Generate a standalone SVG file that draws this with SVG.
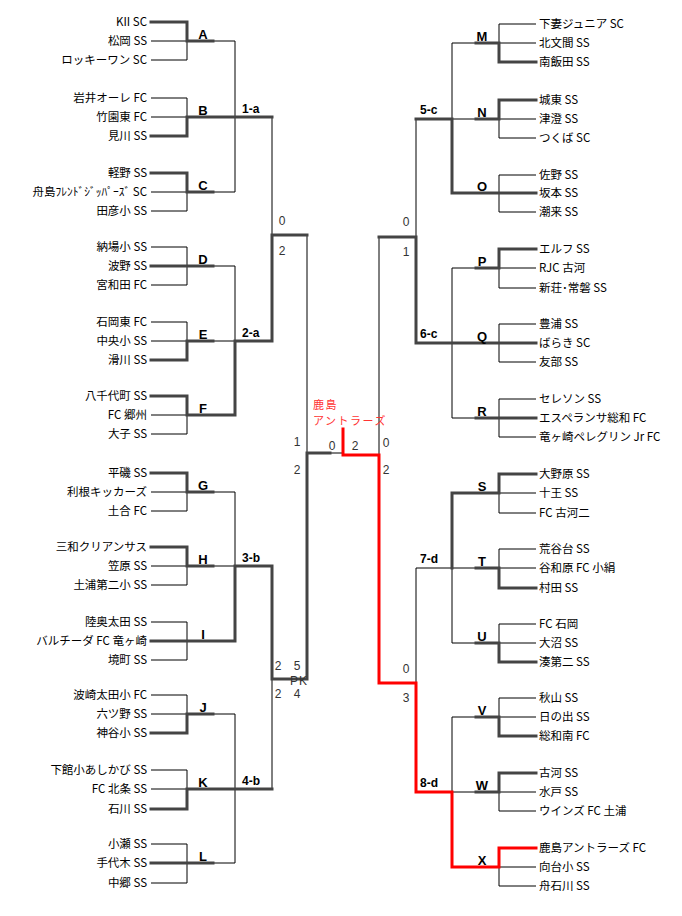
<svg xmlns="http://www.w3.org/2000/svg" width="682" height="916" viewBox="0 0 682 916">
<style>
.t{fill:none;stroke:#000;stroke-width:1}
.k{fill:none;stroke:#444;stroke-width:3;stroke-linejoin:miter;stroke-linecap:square}
.r{fill:none;stroke:#f00;stroke-width:3;stroke-linejoin:miter;stroke-linecap:square}
.nl{font-family:"Noto Sans CJK JP","Noto Sans",sans-serif;font-size:11.5px;fill:#000;text-anchor:end}
.nr{font-family:"Noto Sans CJK JP","Noto Sans",sans-serif;font-size:11.5px;fill:#000;text-anchor:start}
.g{font-family:"Liberation Sans",Arial,sans-serif;font-size:13px;font-weight:bold;fill:#000;text-anchor:middle}
.rd{font-family:"Liberation Sans",Arial,sans-serif;font-size:12px;font-weight:bold;fill:#000}
.s{font-family:"Liberation Sans",Arial,sans-serif;font-size:12px;fill:#333;text-anchor:middle}
.red{font-family:"Noto Sans CJK JP",sans-serif;font-size:11px;fill:#f33;letter-spacing:1.5px}
</style>
<rect width="682" height="916" fill="#fff"/>
<g id="connectors">
<path class="t" d="M151,41H187M151,60H187M187,41V60M213,41H235
M151,98H187M151,117H187M187,98V117
M151,192H187M151,211H187M187,192V211M213,192H235
M235,41V192M272,117V235
M151,247H187M151,285H187M187,247V285M213,266H235
M151,322H187M151,341H187M187,322V341M213,341H235
M151,415H187M151,434H187M187,415V434
M235,266V341M307,235V453M330,453H343
M151,492H187M151,511H187M187,492V511M213,492H235
M151,566H187M151,585H187M187,566V585M213,566H235
M151,622H187M151,660H187M187,622V660
M235,492V566
M151,695H187M151,714H187M187,695V714M213,714H235
M151,770H187M151,789H187M187,770V789
M151,844H187M151,883H187M187,844V883M213,863H235
M235,714V863M272,679V789
M536,24H499M536,43H499M499,24V43M476,43H452
M536,119H499M536,138H499M499,119V138M476,119H452
M536,175H499M536,212H499M499,175V212
M452,43V119M416,119V237
M536,268H499M536,288H499M499,268V288M476,268H452
M536,324H499M536,362H499M499,324V362
M536,399H499M536,437H499M499,399V437M476,418H452
M452,268V418M379,237V455
M536,493H499M536,513H499M499,493V513
M536,549H499M536,568H499M499,549V568M476,568H416
M536,624H499M536,643H499M499,624V643M476,643H452
M452,568V643M416,568V683
M536,698H499M536,717H499M499,698V717M476,717H452
M536,792H499M536,811H499M499,792V811M476,792H452
M536,867H499M536,886H499M499,867V886
M452,717V792"/>
<path class="k" d="M151,22H187V41H213"/>
<path class="k" d="M151,136H187V117H272"/>
<path class="k" d="M151,173H187V192H213"/>
<path class="k" d="M151,266H213"/>
<path class="k" d="M151,360H187V341H213"/>
<path class="k" d="M151,396H187V415H235V341H272V235H307"/>
<path class="k" d="M151,473H187V492H213"/>
<path class="k" d="M151,547H187V566H213"/>
<path class="k" d="M151,641H235V566H272V679H307V453H330"/>
<path class="k" d="M151,733H187V714H213"/>
<path class="k" d="M151,809H187V789H272"/>
<path class="k" d="M151,863H213"/>
<path class="k" d="M536,62H499V43H476"/>
<path class="k" d="M536,100H499V119H476"/>
<path class="k" d="M536,193H452V119H416"/>
<path class="k" d="M536,249H499V268H476"/>
<path class="k" d="M536,343H416V237H379"/>
<path class="k" d="M536,418H476"/>
<path class="k" d="M536,474H499V493H452V568"/>
<path class="k" d="M536,588H499V568H476"/>
<path class="k" d="M536,662H499V643H476"/>
<path class="k" d="M536,736H499V717H476"/>
<path class="k" d="M536,773H499V792H476"/>
<path class="r" d="M536,848H499V867H452V792H416V683H379V455H343V429"/>
</g>
<g id="scores">
<text class="s" x="282" y="225">0</text>
<text class="s" x="282" y="255">2</text>
<text class="s" x="297" y="446">1</text>
<text class="s" x="297" y="474">2</text>
<text class="s" x="278" y="670">2</text>
<text class="s" x="297" y="670">5</text>
<text class="s" x="299" y="685" letter-spacing="1">PK</text>
<text class="s" x="278" y="698">2</text>
<text class="s" x="297" y="698">4</text>
<text class="s" x="332" y="450">0</text>
<text class="s" x="355" y="450">2</text>
<text class="s" x="386" y="447">0</text>
<text class="s" x="386" y="474">2</text>
<text class="s" x="406" y="226">0</text>
<text class="s" x="406" y="256">1</text>
<text class="s" x="406" y="673">0</text>
<text class="s" x="406" y="702">3</text>
</g>
<g id="champion">
<text class="red" x="313" y="409">鹿島</text>
<text class="red" x="313" y="425">アントラーズ</text>
</g>
<g id="rounds">
<text class="rd" x="242" y="113">1-a</text>
<text class="rd" x="242" y="337">2-a</text>
<text class="rd" x="242" y="562">3-b</text>
<text class="rd" x="242" y="785">4-b</text>
<text class="rd" x="420" y="114">5-c</text>
<text class="rd" x="420" y="338">6-c</text>
<text class="rd" x="420" y="563">7-d</text>
<text class="rd" x="420" y="787">8-d</text>
</g>
<g id="group-A"><text class="g" x="203" y="39">A</text>
<text class="nl" x="147" y="26">KII SC</text><text class="nl" x="147" y="45">松岡 SS</text><text class="nl" x="147" y="64">ロッキーワン SC</text></g>
<g id="group-B"><text class="g" x="203" y="115">B</text>
<text class="nl" x="147" y="102">岩井オーレ FC</text><text class="nl" x="147" y="121">竹園東 FC</text><text class="nl" x="147" y="140">見川 SS</text></g>
<g id="group-C"><text class="g" x="203" y="190">C</text>
<text class="nl" x="147" y="177">軽野 SS</text><text class="nl" x="147" y="196">舟島ﾌﾚﾝﾄﾞｼﾞｯﾊﾟｰｽﾞ SC</text><text class="nl" x="147" y="215">田彦小 SS</text></g>
<g id="group-D"><text class="g" x="203" y="264">D</text>
<text class="nl" x="147" y="251">納場小 SS</text><text class="nl" x="147" y="270">波野 SS</text><text class="nl" x="147" y="289">宮和田 FC</text></g>
<g id="group-E"><text class="g" x="203" y="339">E</text>
<text class="nl" x="147" y="326">石岡東 FC</text><text class="nl" x="147" y="345">中央小 SS</text><text class="nl" x="147" y="364">滑川 SS</text></g>
<g id="group-F"><text class="g" x="203" y="413">F</text>
<text class="nl" x="147" y="400">八千代町 SS</text><text class="nl" x="147" y="419">FC 郷州</text><text class="nl" x="147" y="438">大子 SS</text></g>
<g id="group-G"><text class="g" x="203" y="490">G</text>
<text class="nl" x="147" y="477">平磯 SS</text><text class="nl" x="147" y="496">利根キッカーズ</text><text class="nl" x="147" y="515">土合 FC</text></g>
<g id="group-H"><text class="g" x="203" y="564">H</text>
<text class="nl" x="147" y="551">三和クリアンサス</text><text class="nl" x="147" y="570">笠原 SS</text><text class="nl" x="147" y="589">土浦第二小 SS</text></g>
<g id="group-I"><text class="g" x="203" y="639">I</text>
<text class="nl" x="147" y="626">陸奥太田 SS</text><text class="nl" x="147" y="645">バルチーダ FC 竜ヶ崎</text><text class="nl" x="147" y="664">境町 SS</text></g>
<g id="group-J"><text class="g" x="203" y="712">J</text>
<text class="nl" x="147" y="699">波崎太田小 FC</text><text class="nl" x="147" y="718">六ツ野 SS</text><text class="nl" x="147" y="737">神谷小 SS</text></g>
<g id="group-K"><text class="g" x="203" y="787">K</text>
<text class="nl" x="147" y="774">下館小あしかび SS</text><text class="nl" x="147" y="793">FC 北条 SS</text><text class="nl" x="147" y="813">石川 SS</text></g>
<g id="group-L"><text class="g" x="203" y="861">L</text>
<text class="nl" x="147" y="848">小瀬 SS</text><text class="nl" x="147" y="867">手代木 SS</text><text class="nl" x="147" y="887">中郷 SS</text></g>
<g id="group-M"><text class="g" x="482" y="41">M</text>
<text class="nr" x="539" y="28">下妻ジュニア SC</text><text class="nr" x="539" y="47">北文間 SS</text><text class="nr" x="539" y="66">南飯田 SS</text></g>
<g id="group-N"><text class="g" x="482" y="117">N</text>
<text class="nr" x="539" y="104">城東 SS</text><text class="nr" x="539" y="123">津澄 SS</text><text class="nr" x="539" y="142">つくば SC</text></g>
<g id="group-O"><text class="g" x="482" y="191">O</text>
<text class="nr" x="539" y="179">佐野 SS</text><text class="nr" x="539" y="197">坂本 SS</text><text class="nr" x="539" y="216">潮来 SS</text></g>
<g id="group-P"><text class="g" x="482" y="266">P</text>
<text class="nr" x="539" y="253">エルフ SS</text><text class="nr" x="539" y="272">RJC 古河</text><text class="nr" x="539" y="292">新荘･常磐 SS</text></g>
<g id="group-Q"><text class="g" x="482" y="341">Q</text>
<text class="nr" x="539" y="328">豊浦 SS</text><text class="nr" x="539" y="347">ばらき SC</text><text class="nr" x="539" y="366">友部 SS</text></g>
<g id="group-R"><text class="g" x="482" y="416">R</text>
<text class="nr" x="539" y="403">セレソン SS</text><text class="nr" x="539" y="422">エスペランサ総和 FC</text><text class="nr" x="539" y="441">竜ヶ崎ペレグリン Jr FC</text></g>
<g id="group-S"><text class="g" x="482" y="491">S</text>
<text class="nr" x="539" y="478">大野原 SS</text><text class="nr" x="539" y="497">十王 SS</text><text class="nr" x="539" y="517">FC 古河二</text></g>
<g id="group-T"><text class="g" x="482" y="566">T</text>
<text class="nr" x="539" y="553">荒谷台 SS</text><text class="nr" x="539" y="572">谷和原 FC 小絹</text><text class="nr" x="539" y="592">村田 SS</text></g>
<g id="group-U"><text class="g" x="482" y="641">U</text>
<text class="nr" x="539" y="628">FC 石岡</text><text class="nr" x="539" y="647">大沼 SS</text><text class="nr" x="539" y="666">湊第二 SS</text></g>
<g id="group-V"><text class="g" x="482" y="715">V</text>
<text class="nr" x="539" y="702">秋山 SS</text><text class="nr" x="539" y="721">日の出 SS</text><text class="nr" x="539" y="740">総和南 FC</text></g>
<g id="group-W"><text class="g" x="482" y="790">W</text>
<text class="nr" x="539" y="777">古河 SS</text><text class="nr" x="539" y="796">水戸 SS</text><text class="nr" x="539" y="815">ウインズ FC 土浦</text></g>
<g id="group-X"><text class="g" x="482" y="865">X</text>
<text class="nr" x="539" y="852">鹿島アントラーズ FC</text><text class="nr" x="539" y="871">向台小 SS</text><text class="nr" x="539" y="890">舟石川 SS</text></g>
</svg>
